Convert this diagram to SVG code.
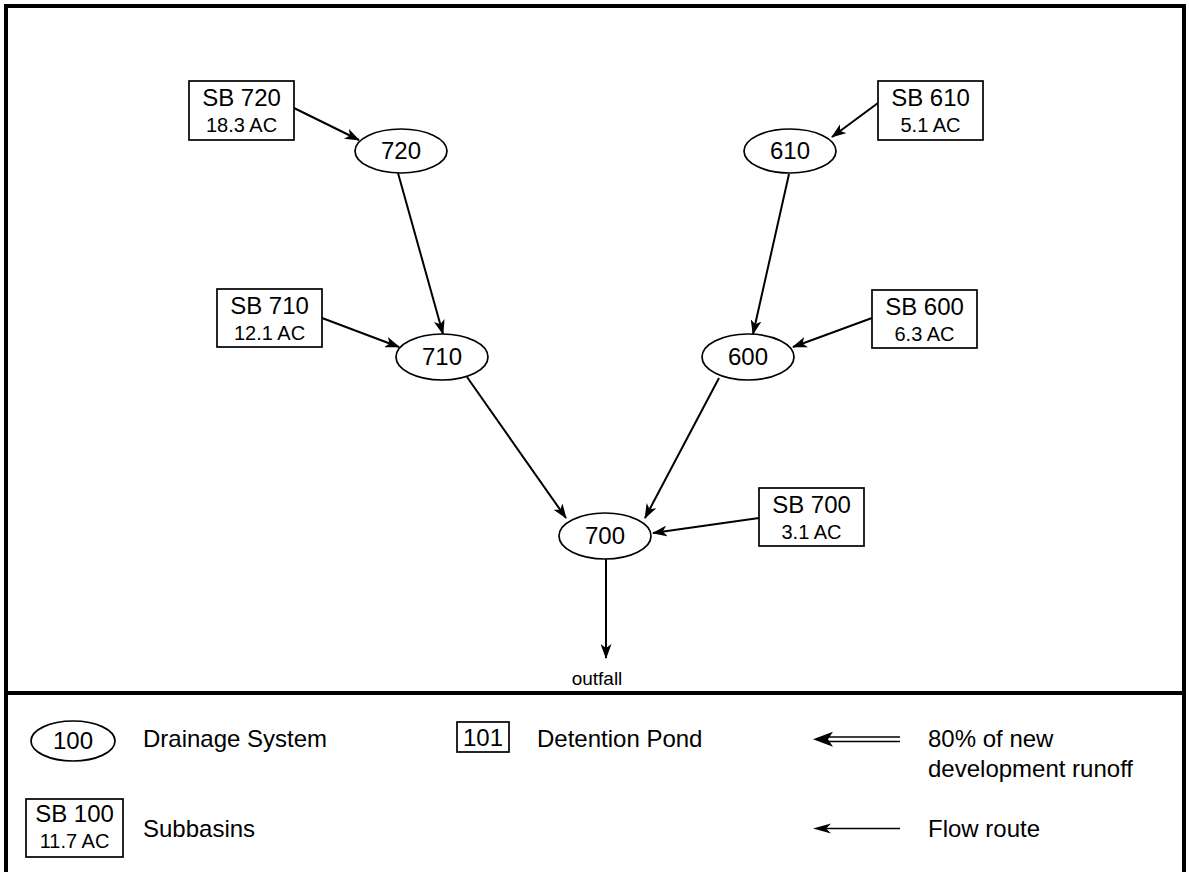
<svg xmlns="http://www.w3.org/2000/svg" width="1189" height="872" viewBox="0 0 1189 872">
<defs>
<style>
.nd{fill:#fff;stroke:#000;stroke-width:1.7}
.t{font-family:"Liberation Sans",Arial,sans-serif;fill:#000;text-anchor:middle}
.big{font-size:24px}
.sm{font-size:20px}
.lg{font-family:"Liberation Sans",Arial,sans-serif;font-size:24px;fill:#000}
.c{fill:none;stroke:#000;stroke-width:2;marker-end:url(#ah)}
</style>
<marker id="ah" viewBox="0 0 15 11" refX="14" refY="5.5" markerWidth="15" markerHeight="11" markerUnits="userSpaceOnUse" orient="auto">
<path d="M0,0 L15,5.5 L0,11 L4,5.5 z" fill="#000"/>
</marker>
</defs>
<rect width="1189" height="872" fill="#fff"/>
<rect x="6" y="6" width="1178" height="880" fill="none" stroke="#000" stroke-width="4"/>
<line x1="4" y1="693" x2="1186" y2="693" stroke="#000" stroke-width="4"/>

<g id="connectors">
<line class="c" x1="294" y1="108" x2="359" y2="140"/>
<line class="c" x1="398" y1="173" x2="443" y2="334"/>
<line class="c" x1="322" y1="318" x2="399" y2="347"/>
<line class="c" x1="467" y1="377" x2="566" y2="518"/>
<line class="c" x1="789" y1="174" x2="753" y2="334"/>
<line class="c" x1="878" y1="103" x2="832" y2="137"/>
<line class="c" x1="872" y1="318" x2="793" y2="347"/>
<line class="c" x1="719" y1="378" x2="645" y2="518"/>
<line class="c" x1="759" y1="518" x2="653" y2="533"/>
<line class="c" x1="606" y1="559" x2="606" y2="658"/>
</g>

<g id="sb720"><rect class="nd" x="189" y="81" width="105" height="59"/><text class="t big" x="241.5" y="106">SB 720</text><text class="t sm" x="241.5" y="132">18.3 AC</text></g>
<g id="n720"><ellipse class="nd" cx="401" cy="151" rx="46" ry="22"/><text class="t big" x="401" y="159">720</text></g>
<g id="sb610"><rect class="nd" x="878" y="81" width="105" height="59"/><text class="t big" x="930.5" y="106">SB 610</text><text class="t sm" x="930.5" y="132">5.1 AC</text></g>
<g id="n610"><ellipse class="nd" cx="790" cy="151" rx="46" ry="22"/><text class="t big" x="790" y="159">610</text></g>
<g id="sb710"><rect class="nd" x="217" y="289" width="105" height="58"/><text class="t big" x="269.5" y="314">SB 710</text><text class="t sm" x="269.5" y="340">12.1 AC</text></g>
<g id="n710"><ellipse class="nd" cx="442" cy="357" rx="46" ry="23"/><text class="t big" x="442" y="365">710</text></g>
<g id="sb600"><rect class="nd" x="872" y="290" width="105" height="58"/><text class="t big" x="924.5" y="315">SB 600</text><text class="t sm" x="924.5" y="341">6.3 AC</text></g>
<g id="n600"><ellipse class="nd" cx="748" cy="357" rx="46" ry="23"/><text class="t big" x="748" y="365">600</text></g>
<g id="sb700"><rect class="nd" x="759" y="488" width="105" height="58"/><text class="t big" x="811.5" y="513">SB 700</text><text class="t sm" x="811.5" y="539">3.1 AC</text></g>
<g id="n700"><ellipse class="nd" cx="605" cy="536" rx="46" ry="23"/><text class="t big" x="605" y="544">700</text></g>
<g id="outfall"><text class="t" style="font-size:19px" x="597" y="685">outfall</text></g>

<g id="legend">
<ellipse class="nd" cx="73" cy="741" rx="42" ry="20"/><text class="t big" x="73" y="749">100</text>
<text class="lg" x="143" y="747">Drainage System</text>
<rect class="nd" x="457" y="722" width="52" height="30"/><text class="t big" x="483" y="746">101</text>
<text class="lg" x="537" y="747">Detention Pond</text>
<line x1="826" y1="737" x2="900" y2="737" stroke="#000" stroke-width="1.7"/>
<line x1="826" y1="741.5" x2="900" y2="741.5" stroke="#000" stroke-width="1.7"/>
<path d="M813,739.3 L833,731.8 L828,739.3 L833,746.8 z" fill="#000"/>
<text class="lg" x="928" y="747">80% of new</text>
<text class="lg" x="928" y="777">development runoff</text>
<rect class="nd" x="26" y="799" width="97" height="58"/><text class="t big" x="74.5" y="822">SB 100</text><text class="t sm" x="74.5" y="848">11.7 AC</text>
<text class="lg" x="143" y="837">Subbasins</text>
<line x1="820" y1="828.5" x2="900" y2="828.5" stroke="#000" stroke-width="1.7"/>
<path d="M813,828.5 L831,823.5 L826,828.5 L831,833.5 z" fill="#000"/>
<text class="lg" x="928" y="837">Flow route</text>
</g>
</svg>
